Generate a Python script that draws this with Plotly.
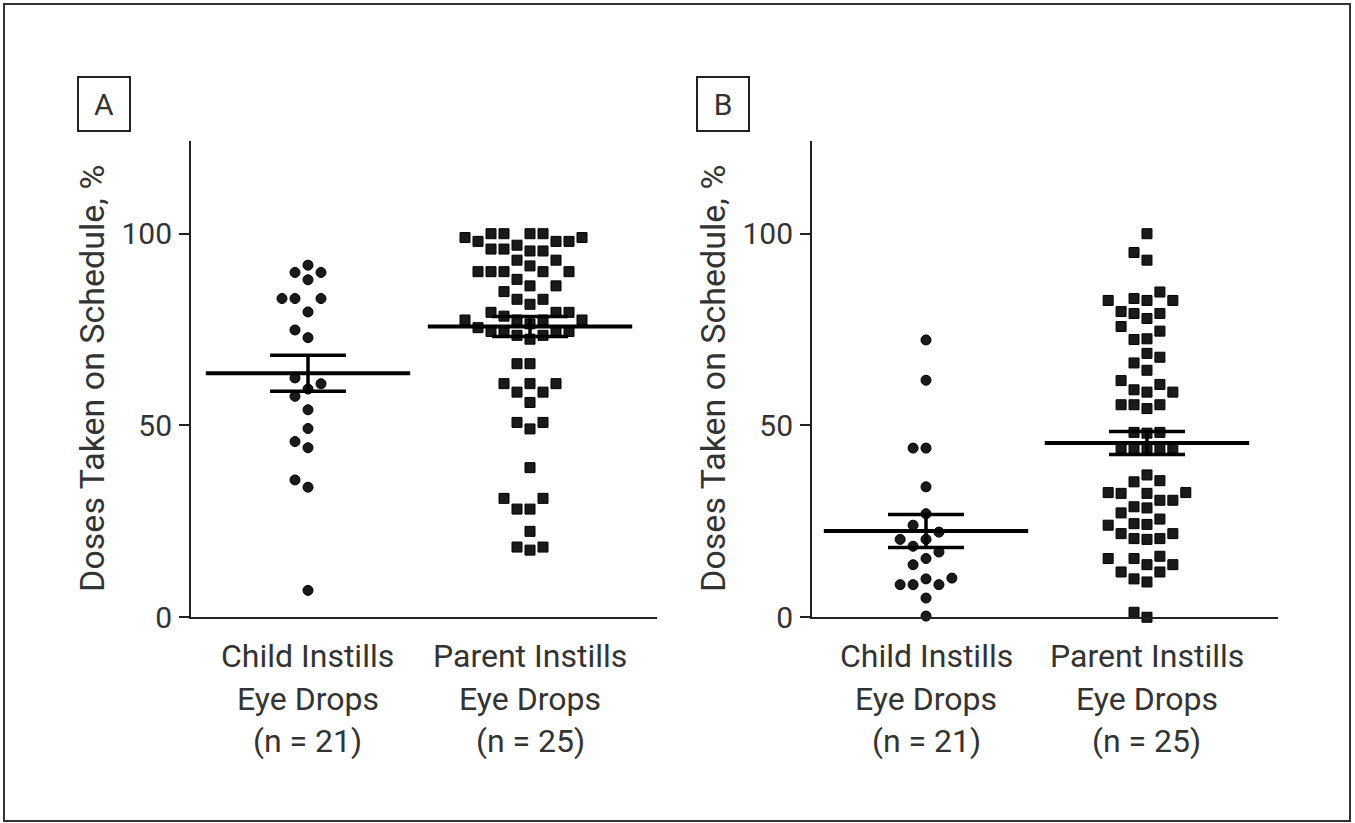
import plotly.graph_objects as go

# ---------------- data ----------------
categories = ["Child Instills<br>Eye Drops<br>(n = 21)",
              "Parent Instills<br>Eye Drops<br>(n = 25)"]
panels = ["A", "B"]
y_ticks = [0, 50, 100]
y_title = "Doses Taken on Schedule, %"

a_child = [91.8, 89.9, 88.0, 89.9, 83.1, 83.1, 83.1, 79.6, 74.9, 72.9,
           62.4, 60.9, 59.5, 57.6, 54.1, 49.2, 45.8, 44.2, 35.8, 33.9, 7.0]
a_parent = [17.5, 18.3, 18.3, 22.4, 28.2, 28.2, 31.0, 31.0, 39.0,
            49.1, 50.8, 50.8, 56.0, 58.7, 58.7, 60.9, 60.9, 60.9, 66.1, 66.1,
            72.5, 73.5, 73.5, 74.5, 74.5, 74.5, 74.5,
            75.5, 76.5, 77.5, 77.5, 77.5, 77.5,
            78.5, 79.5, 79.5, 79.5, 81.6, 82.9, 82.9, 84.9,
            86.4, 86.4, 88.1, 90.1, 90.1, 90.1, 90.1, 90.1, 91.6, 93.1, 93.1,
            95.5, 95.5,
            100, 100, 100, 100, 99, 99,
            98, 98, 98, 97, 96, 96]
b_child = [72.3, 61.8, 44.1, 44.1, 34.0, 27.0, 24.0, 22.2, 20.3, 20.3,
           18.5, 17.0, 15.3, 13.7, 10.2, 10.0, 8.5, 8.5, 8.5, 5.0, 0.3]
b_parent = [100.0, 95.1, 93.1, 84.8, 82.6, 82.6, 83.1, 82.6, 79.7, 79.2,
            77.9, 79.2, 75.8, 74.6, 72.4, 72.6, 68.8, 67.8, 66.3, 64.4,
            60.7, 61.7, 58.7, 58.7, 59.3, 55.4, 55.4, 55.4, 54.4,
            48.2, 48.2, 48.0, 44.1, 44.1, 44.1, 44.1, 44.1,
            37.1, 35.6, 35.3, 32.3, 32.3, 32.5, 32.5, 30.5, 30.5, 28.8, 28.5,
            27.2, 25.6, 24.4, 24.0, 24.2, 21.8, 21.8, 20.3, 20.5, 20.5,
            15.9, 15.3, 15.3, 13.7, 13.7, 11.8, 11.8, 10.0, 9.2, 1.3, 0.0]

a_means = [63.6, 75.8]
a_sems = [4.7, 2.6]
b_means = [22.5, 45.4]
b_sems = [4.3, 3.0]

panel_data = [
    ([a_child, a_parent], a_means, a_sems),
    ([b_child, b_parent], b_means, b_sems),
]

# ---------------- layout constants ----------------
W = 1355
H_REF = 823               # height of the reference picture
H = 843                   # page height the viewer squeezes into 823 px
FONT = "Roboto, Arial, sans-serif"
TXT = "#333333"
x_domains = [(191 / W, 657 / W), (812 / W, 1278 / W)]
x_ranges = [(-0.527, 1.572), (-0.516, 1.593)]
y_domain = (1 - 615 / H_REF, 1 - 140 / H_REF)
y_range = (0, 124.3)
px_per_cat = 222.0
px_per_unit_y = 3.82
symbols = ["circle", "square"]


def swarm(values, step, thresh):
    order = sorted(range(len(values)), key=lambda i: values[i])
    placed = []
    offs = [0.0] * len(values)
    cands = [0]
    for j in range(1, 40):
        cands += [-j, j]
    for i in order:
        y = values[i]
        for s in cands:
            if all(not (ps == s and abs(py - y) < thresh) for ps, py in placed):
                break
        placed.append((s, y))
        offs[i] = s * step
    return offs


fig = go.Figure()
step = 13.0 / px_per_cat
thresh = 14.5 / px_per_unit_y

for p, (groups, means, sems) in enumerate(panel_data):
    xa = "x" if p == 0 else "x2"
    ya = "y" if p == 0 else "y2"
    for c, vals in enumerate(groups):
        offs = swarm(vals, step, thresh)
        fig.add_trace(go.Scatter(
            x=[c + o for o in offs], y=vals, mode="markers",
            xaxis=xa, yaxis=ya, cliponaxis=False, showlegend=False,
            hoverinfo="skip",
            marker=dict(symbol=symbols[c], size=10, color="#1a1a1a",
                        line=dict(color="#000000", width=1)),
        ))
    fig.add_trace(go.Scatter(
        x=list(range(len(means))), y=means, mode="markers",
        xaxis=xa, yaxis=ya, cliponaxis=False, showlegend=False,
        hoverinfo="skip",
        marker=dict(symbol="line-ew", size=146,
                    line=dict(color="#000000", width=4)),
        error_y=dict(type="data", array=sems, visible=True,
                     width=38, thickness=3.5, color="#000000"),
    ))

axis_common = dict(showgrid=False, zeroline=False, showline=True,
                   linecolor="#222222", linewidth=2)
for p in range(2):
    sx = "" if p == 0 else "2"
    fig.update_layout(**{
        "xaxis" + sx: dict(axis_common, domain=list(x_domains[p]),
                           range=list(x_ranges[p]), showticklabels=False,
                           ticks="", anchor="y" + sx, fixedrange=True),
        "yaxis" + sx: dict(axis_common, domain=list(y_domain),
                           range=list(y_range), tickvals=y_ticks,
                           ticks="outside", ticklen=10, tickwidth=2,
                           tickcolor="#222222", ticklabelstandoff=1,
                           tickfont=dict(family=FONT, size=30, color=TXT),
                           anchor="x" + sx, fixedrange=True),
    })

annotations = []
ypix_lines = [654, 696, 738]
box_centers = [(103.5, 103.5), (723, 103.5)]
title_x = [92, 713]
for p in range(2):
    x0, x1 = x_domains[p]
    r0, r1 = x_ranges[p]
    for c, cat in enumerate(categories):
        xp = x0 + (c - r0) / (r1 - r0) * (x1 - x0)
        for k, line in enumerate(cat.split("<br>")):
            annotations.append(dict(
                x=xp, y=1 - ypix_lines[k] / H_REF, xref="paper", yref="paper",
                text=line, showarrow=False, xanchor="center", yanchor="middle",
                font=dict(family=FONT, size=32, color=TXT)))
    annotations.append(dict(
        x=title_x[p] / W, y=(y_domain[0] + y_domain[1]) / 2,
        xref="paper", yref="paper", text=y_title, textangle=-90,
        showarrow=False, xanchor="center", yanchor="middle",
        font=dict(family=FONT, size=34, color=TXT)))
    bx, by = box_centers[p]
    annotations.append(dict(
        x=bx / W, y=1 - by / H_REF, xref="paper", yref="paper",
        text=panels[p], showarrow=False, xanchor="center", yanchor="middle",
        width=50, height=52, borderpad=0, borderwidth=2,
        bordercolor="#222222", bgcolor="white",
        font=dict(family=FONT, size=30, color=TXT)))

fig.update_layout(
    width=W, height=H,
    margin=dict(l=0, r=0, t=0, b=0),
    paper_bgcolor="white", plot_bgcolor="white",
    hovermode=False,
    annotations=annotations,
    shapes=[dict(type="rect", xref="paper", yref="paper",
                 x0=4 / W, x1=1 - 5 / W, y0=5 / H_REF, y1=1 - 4 / H_REF,
                 line=dict(color="#333333", width=2))],
)

fig.write_html(
    "out.html",
    config={"displayModeBar": False},
    post_script="document.body.style.margin='0';"
                "document.body.style.overflow='hidden';",
)
